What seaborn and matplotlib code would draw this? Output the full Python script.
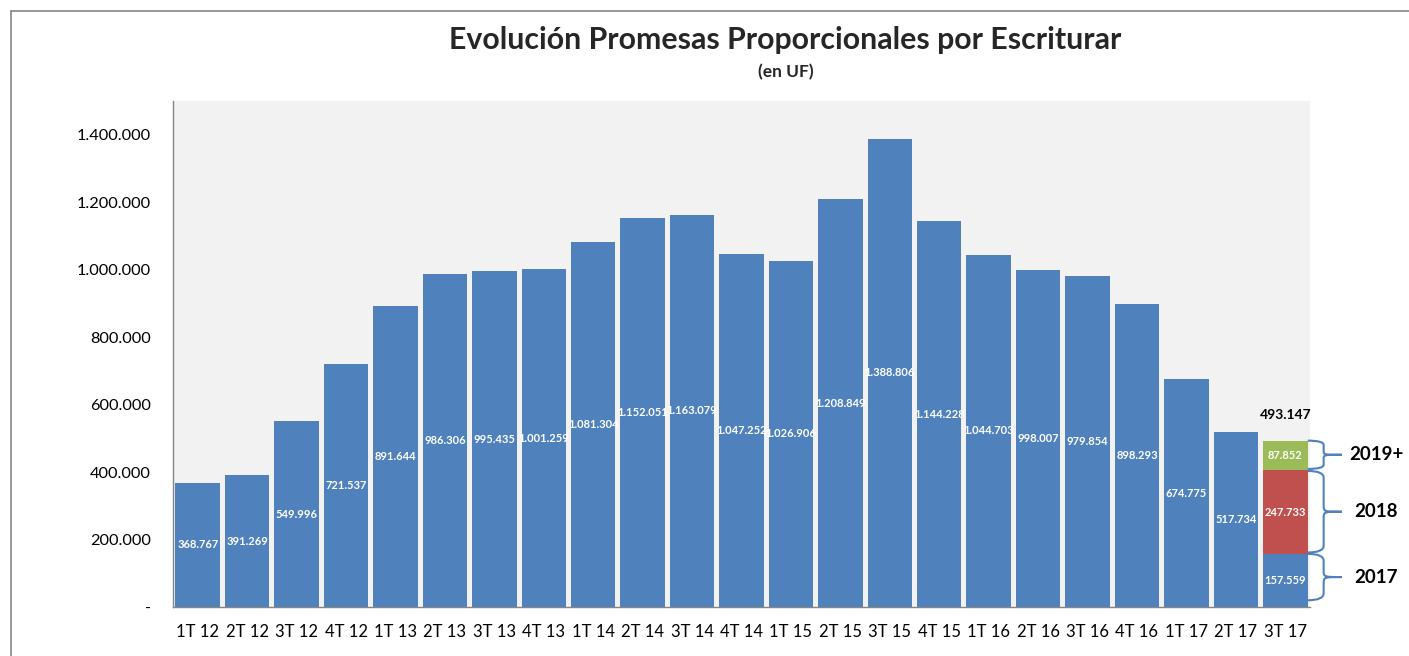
import matplotlib
matplotlib.use("Agg")
import matplotlib.pyplot as plt
import seaborn as sns
import numpy as np
from matplotlib.path import Path
from matplotlib.patches import PathPatch
from matplotlib.lines import Line2D
import matplotlib.transforms as mtransforms

categories = ["1T 12", "2T 12", "3T 12", "4T 12", "1T 13", "2T 13", "3T 13", "4T 13",
              "1T 14", "2T 14", "3T 14", "4T 14", "1T 15", "2T 15", "3T 15", "4T 15",
              "1T 16", "2T 16", "3T 16", "4T 16", "1T 17", "2T 17", "3T 17"]
# base (blue) series; last one is the 2017 part of 3T 17
values = [368767, 391269, 549996, 721537, 891644, 986306, 995435, 1001259,
          1081304, 1152051, 1163079, 1047252, 1026906, 1208849, 1388806, 1144228,
          1044703, 998007, 979854, 898293, 674775, 517734, 157559]
stack_labels = ["2017", "2018", "2019+"]
stack_values = [157559, 247733, 87852]
stack_total = 493147
yticks = [0, 200000, 400000, 600000, 800000, 1000000, 1200000, 1400000]

BLUE = "#4F81BD"
RED = "#C0504D"
GREEN = "#9BBB59"

sns.set_style("white")
plt.rcParams["font.family"] = ["Lato", "DejaVu Sans"]

def fmt(v):
    return f"{v:,.0f}".replace(",", ".")

fig = plt.figure(figsize=(14.09, 6.56), dpi=100)
ax = fig.add_axes([173/1409, 1-607/656, (1310-173)/1409, (607-101)/656])
ax.set_facecolor("#F2F2F2")

sns.barplot(x=categories, y=values, color=BLUE, saturation=1, width=0.9, ax=ax,
            edgecolor="none", linewidth=0)

last = categories.index("3T 17")
ax.bar(last, stack_values[1], bottom=stack_values[0], width=0.9, color=RED, linewidth=0)
ax.bar(last, stack_values[2], bottom=stack_values[0] + stack_values[1], width=0.9,
       color=GREEN, linewidth=0)

ax.set_xlim(-0.5, len(categories) - 0.5)
ax.set_ylim(0, 1500000)
ax.set_yticks(yticks)
ax.set_yticklabels(["-"] + [fmt(v) for v in yticks[1:]])
ax.set_xticks(range(len(categories)))
ax.set_xticklabels(categories)
ax.set_xticks(np.arange(-0.5, len(categories)), minor=True)
ax.tick_params(axis="x", which="major", length=0, pad=12, labelsize=12, colors="#000000")
ax.tick_params(axis="x", which="minor", length=5, color="#868686", width=1, direction="out")
ax.tick_params(axis="y", length=6, color="#868686", width=1, direction="out",
               labelsize=11.8, pad=10, colors="#000000")
ax.set_xlabel("")
ax.set_ylabel("")
for s in ["top", "right"]:
    ax.spines[s].set_visible(False)
for s in ["left", "bottom"]:
    ax.spines[s].set_color("#868686")
    ax.spines[s].set_linewidth(1)

# bar value labels
for i, v in enumerate(values[:-1]):
    ax.text(i, v / 2, fmt(v), ha="center", va="center", color="white",
            fontsize=8, fontweight="bold")
bottoms = np.cumsum([0] + stack_values[:-1])
for b, v in zip(bottoms, stack_values):
    ax.text(last, b + v / 2, fmt(v), ha="center", va="center", color="white",
            fontsize=8, fontweight="bold")
ax.text(last, stack_total + 76000, fmt(stack_total), ha="center", va="center",
        color="black", fontsize=10, fontweight="bold")

# braces
trans = mtransforms.blended_transform_factory(ax.transAxes, ax.transData)
x0, xv, xt = 0.998, 1.012, 1.028
def brace(y0, y1):
    ym = (y0 + y1) / 2
    c = 0.15 * (y1 - y0) if (y1 - y0) < 150000 else 20000
    verts = [(x0, y1), (xv, y1), (xv, y1 - c),
             (xv, ym + c),
             (xv, ym), (xv, ym), (xt, ym),
             (xv, ym), (xv, ym), (xv, ym - c),
             (xv, y0 + c),
             (xv, y0), (x0, y0)]
    codes = [Path.MOVETO, Path.CURVE3, Path.CURVE3,
             Path.LINETO,
             Path.CURVE4, Path.CURVE4, Path.CURVE4,
             Path.CURVE4, Path.CURVE4, Path.CURVE4,
             Path.LINETO,
             Path.CURVE3, Path.CURVE3]
    p = PathPatch(Path(verts, codes), transform=trans, fill=False,
                  edgecolor=BLUE, linewidth=1.5, clip_on=False)
    ax.add_patch(p)

tops = np.cumsum(stack_values)
ranges = [(20000, tops[0]), (tops[0] + 4000, tops[1] - 2000), (tops[1] + 4000, tops[2])]
for (y0, y1), lab in zip(ranges, stack_labels):
    brace(y0, y1)
    ax.text(1.058, (y0 + y1) / 2, lab, transform=trans, ha="center", va="center",
            fontsize=13.5, fontweight="bold", color="black", clip_on=False)

# title
fig.text(785/1409, 1-40/656, "Evolución Promesas Proporcionales por Escriturar",
         ha="center", va="center", fontsize=21.8, fontweight="bold")
fig.text(786/1409, 1-72/656, "(en UF)", ha="center", va="center",
         fontsize=12.5, fontweight="bold")

# outer chart frame
fig.add_artist(Line2D([11/1409, 1], [1-11/656, 1-11/656], transform=fig.transFigure,
                      color="#868686", linewidth=1.2))
fig.add_artist(Line2D([11/1409, 11/1409], [0, 1-11/656], transform=fig.transFigure,
                      color="#868686", linewidth=1.2))

fig.savefig("out.png", dpi=100)
